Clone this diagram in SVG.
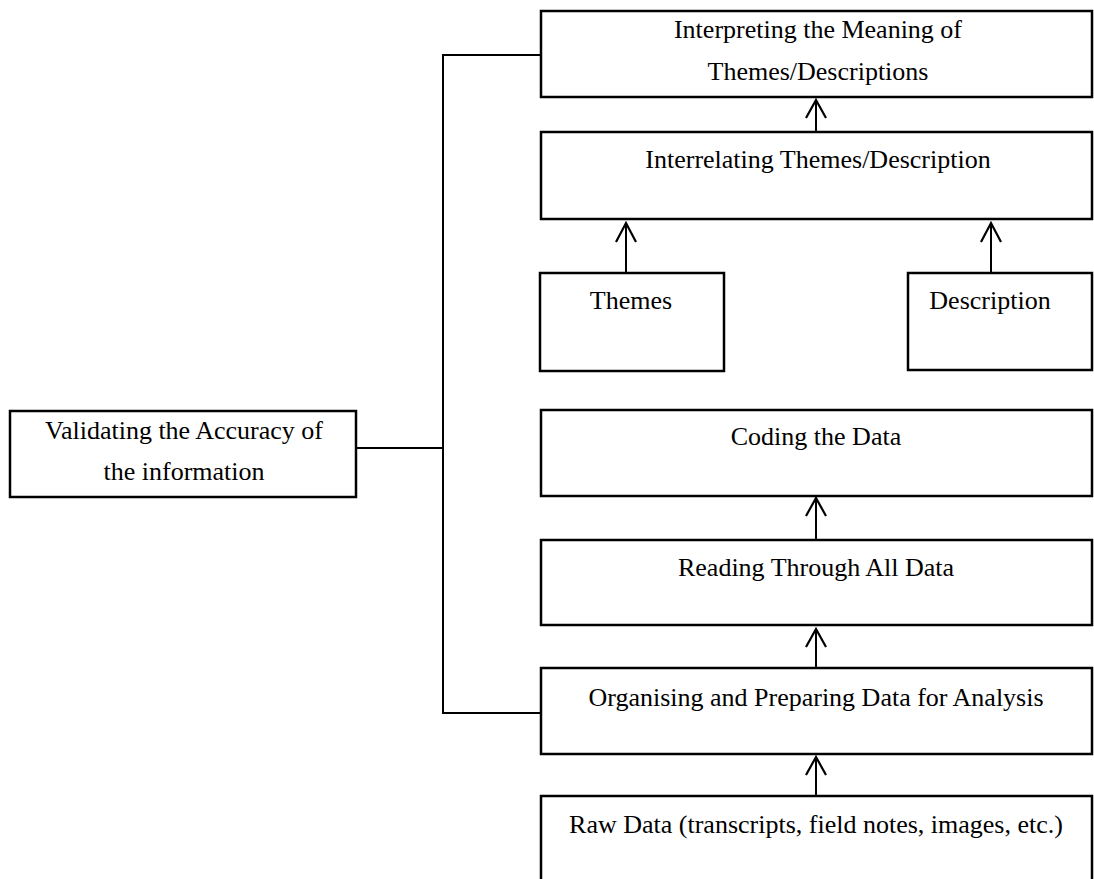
<svg xmlns="http://www.w3.org/2000/svg" width="1094" height="879" viewBox="0 0 1094 879">
<style>
.box{fill:#fff;stroke:#000;stroke-width:2.5}
.t{font-family:"Liberation Serif","Times New Roman",serif;font-size:26px;fill:#000;text-anchor:middle}
.c{fill:none;stroke:#000;stroke-width:2}
.ah{fill:none;stroke:#000;stroke-width:2.2;stroke-linejoin:miter}
</style>
<rect width="1094" height="879" fill="#fff"/>
<g id="connectors">
<polyline class="c" points="541,55 443,55 443,713 541,713"/>
<line class="c" x1="356" y1="448" x2="443" y2="448"/>
<line class="c" x1="816" y1="132" x2="816" y2="100"/>
<polyline class="ah" points="806,118 816,100 826,118"/>
<line class="c" x1="626" y1="273" x2="626" y2="223"/>
<polyline class="ah" points="616,242 626,223 636,242"/>
<line class="c" x1="991" y1="273" x2="991" y2="223"/>
<polyline class="ah" points="981,242 991,223 1001,242"/>
<line class="c" x1="816" y1="540" x2="816" y2="498"/>
<polyline class="ah" points="806,516 816,498 826,516"/>
<line class="c" x1="816" y1="668" x2="816" y2="629"/>
<polyline class="ah" points="806,647 816,629 826,647"/>
<line class="c" x1="816" y1="796" x2="816" y2="757"/>
<polyline class="ah" points="806,775 816,757 826,775"/>
</g>
<g id="interpreting">
<rect class="box" x="541" y="11" width="551" height="86"/>
<text class="t" x="818" y="38">Interpreting the Meaning of</text>
<text class="t" x="818" y="80">Themes/Descriptions</text>
</g>
<g id="interrelating">
<rect class="box" x="541" y="132" width="551" height="87"/>
<text class="t" x="818" y="168">Interrelating Themes/Description</text>
</g>
<g id="themes">
<rect class="box" x="540" y="273" width="184" height="98"/>
<text class="t" x="631" y="309">Themes</text>
</g>
<g id="description">
<rect class="box" x="908" y="273" width="184" height="97"/>
<text class="t" x="990" y="309">Description</text>
</g>
<g id="validating">
<rect class="box" x="10" y="411" width="346" height="86"/>
<text class="t" x="184" y="439">Validating the Accuracy of</text>
<text class="t" x="184" y="480">the information</text>
</g>
<g id="coding">
<rect class="box" x="541" y="410" width="551" height="86"/>
<text class="t" x="816" y="445">Coding the Data</text>
</g>
<g id="reading">
<rect class="box" x="541" y="540" width="551" height="85"/>
<text class="t" x="816" y="576">Reading Through All Data</text>
</g>
<g id="organising">
<rect class="box" x="541" y="668" width="551" height="86"/>
<text class="t" x="816" y="706">Organising and Preparing Data for Analysis</text>
</g>
<g id="rawdata">
<rect class="box" x="541" y="796" width="551" height="110"/>
<text class="t" x="816" y="833">Raw Data (transcripts, field notes, images, etc.)</text>
</g>
</svg>
